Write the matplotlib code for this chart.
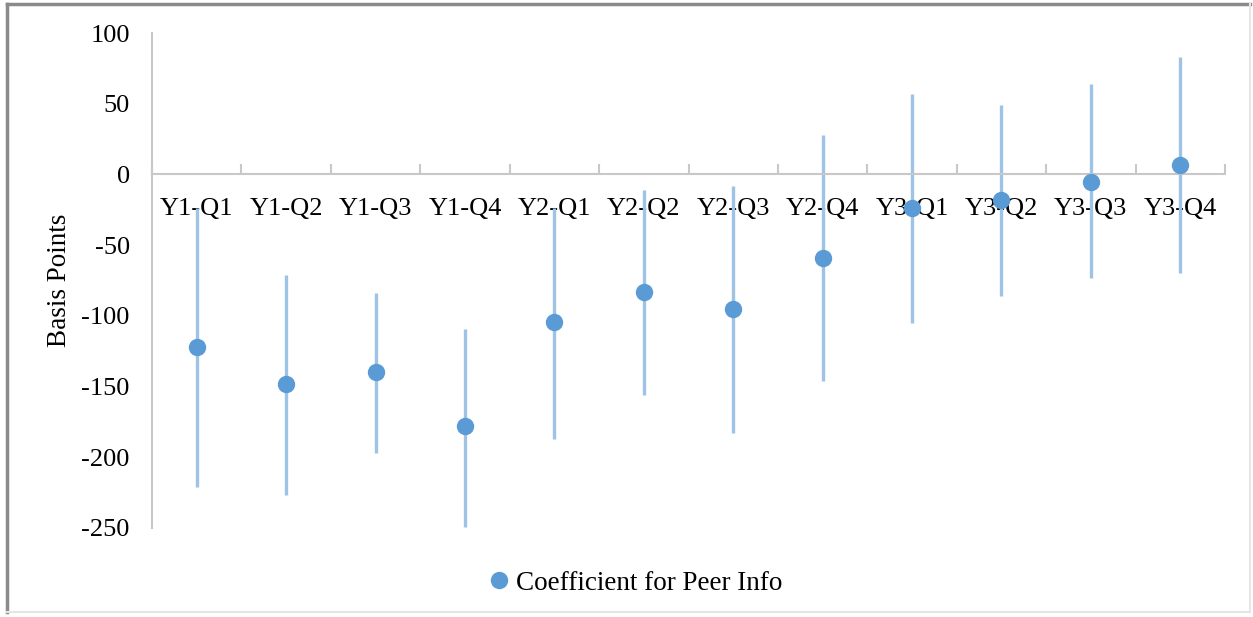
import matplotlib
matplotlib.use("Agg")
import matplotlib.pyplot as plt
from matplotlib.lines import Line2D
import numpy as np

plt.rcParams["font.family"] = ["Liberation Serif", "DejaVu Serif"]

# Datos
quarters = ["Y1-Q1", "Y1-Q2", "Y1-Q3", "Y1-Q4", "Y2-Q1", "Y2-Q2",
            "Y2-Q3", "Y2-Q4", "Y3-Q1", "Y3-Q2", "Y3-Q3", "Y3-Q4"]
coef = [-122, -148, -140, -178, -104, -83, -95, -59, -24, -18, -5, 7]
upper = [-24, -71, -84, -109, -24, -11, -8, 28, 57, 49, 64, 83]
lower = [-221, -227, -197, -249, -187, -156, -183, -146, -105, -86, -73, -70]
y_ticks = [100, 50, 0, -50, -100, -150, -200, -250]

dot_color = "#5B9BD5"
bar_color = "#9DC3E6"
axis_color = "#C8C8C8"

fig = plt.figure(figsize=(12.53, 6.17), dpi=100)
ax = fig.add_axes([152 / 1253, 1 - 528 / 617, (1225 - 152) / 1253, (528 - 33) / 617])

x = np.arange(len(quarters))
c = np.array(coef)
err = [c - np.array(lower), np.array(upper) - c]

# Intervalos de confianza y coeficientes
ax.errorbar(x, c, yerr=err, fmt="none", ecolor=bar_color, elinewidth=2.4, capsize=0, zorder=2)
ax.plot(x, c, "o", color=dot_color, markersize=11.5, zorder=3)

ax.set_xlim(-0.5, len(quarters) - 0.5)
ax.set_ylim(-250, 100)

for s in ["top", "right"]:
    ax.spines[s].set_visible(False)
ax.spines["bottom"].set_position(("data", 0))
ax.spines["bottom"].set_color(axis_color)
ax.spines["bottom"].set_linewidth(1.5)
ax.spines["left"].set_color(axis_color)
ax.spines["left"].set_linewidth(1.5)

# Marcas en los limites de categoria, etiquetas en el centro
ax.set_xticks(np.arange(-0.5, len(quarters)), minor=False)
ax.set_xticklabels([])
ax.tick_params(axis="x", which="major", direction="in", length=7, color=axis_color, width=1.5)
ax.set_xticks(x, minor=True)
ax.set_xticklabels(quarters, minor=True, fontsize=19)
ax.tick_params(axis="x", which="minor", length=0, pad=17)

ax.set_yticks(y_ticks)
ax.set_yticklabels([str(v) for v in y_ticks], fontsize=19)
ax.tick_params(axis="y", length=0, pad=16)
ax.set_ylabel("Basis Points", fontsize=19.5)
ax.yaxis.set_label_coords((72 - 152) / 1073, 0.5)

handle = Line2D([], [], marker="o", linestyle="none", color=dot_color, markersize=11.5)
fig.legend([handle], ["Coefficient for Peer Info"], loc="center",
           bbox_to_anchor=(634 / 1253, 1 - 583 / 617), frameon=False,
           fontsize=19.5, handletextpad=0.15, handlelength=1.0)

# Marco de la imagen
fig.add_artist(Line2D([7 / 1253, 7 / 1253], [1 - 612 / 617, 1 - 4 / 617], color="#8A8A8A", lw=2.5))
fig.add_artist(Line2D([7 / 1253, 1250 / 1253], [1 - 4 / 617, 1 - 4 / 617], color="#8A8A8A", lw=2.5))
fig.add_artist(Line2D([1250 / 1253, 1250 / 1253], [1 - 612 / 617, 1 - 4 / 617], color="#E6E6E6", lw=1.5))
fig.add_artist(Line2D([7 / 1253, 1250 / 1253], [1 - 612 / 617, 1 - 612 / 617], color="#E6E6E6", lw=1.5))

fig.savefig("out.png", dpi=100)
